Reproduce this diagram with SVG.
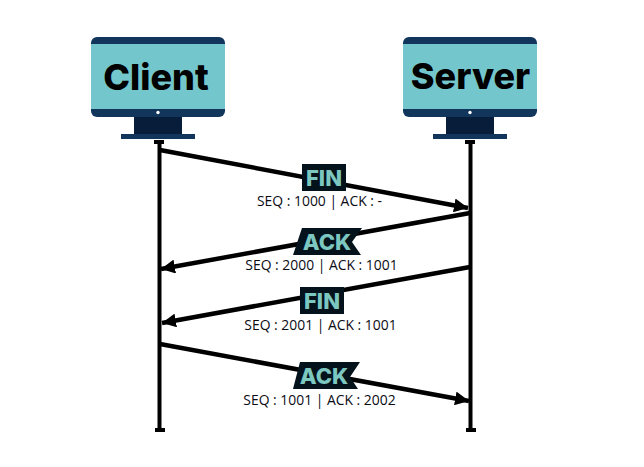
<svg xmlns="http://www.w3.org/2000/svg" width="644" height="467" viewBox="0 0 644 467">
<style>
.frame{fill:#12355b}
.screen{fill:#73c6cc}
.neck{fill:#071d3a}
.dot{fill:#fff}
.name{font-family:"Inter","Liberation Sans",sans-serif;font-weight:800;font-size:36px;fill:#000;text-anchor:middle}
.life{stroke:#000;stroke-width:4;fill:none}
.cap{fill:#000}
.msg{stroke:#000;stroke-width:4.500;fill:none;marker-end:url(#arrow)}
.badge{fill:#04121c}
.flag{font-family:"Inter","Liberation Sans",sans-serif;font-weight:800;font-size:22px;fill:#7cc7c0;text-anchor:middle}
.seq{font-family:"Open Sans","Noto Sans",sans-serif;font-size:13.900px;fill:#0b0b14;text-anchor:middle}
</style>
<defs>
<marker id="arrow" markerUnits="userSpaceOnUse" markerWidth="16" markerHeight="14" refX="14" refY="7" orient="auto">
<path d="M0 0L14 7L0 14Z" fill="#000"/>
</marker>
<g id="monitor">
<rect x="0" y="0" width="134" height="80" rx="6" class="frame"/>
<rect x="0" y="7" width="134" height="65" class="screen"/>
<circle cx="67" cy="75.500" r="1.700" class="dot"/>
<rect x="43" y="80" width="48" height="17" class="neck"/>
<rect x="30" y="97" width="74" height="5" class="frame"/>
</g>
</defs>
<rect width="644" height="467" fill="#fff"/>
<g id="connectors">
<path class="life" d="M159.500 141V430"/>
<rect class="cap" x="154" y="140" width="10" height="4"/>
<rect class="cap" x="155" y="428" width="10" height="4"/>
<path class="life" d="M470.500 141V430"/>
<rect class="cap" x="465" y="140" width="10" height="4"/>
<rect class="cap" x="466" y="428" width="10" height="4"/>
<path class="msg" d="M160 150L468 208"/>
<path class="msg" d="M470 213L161 269"/>
<path class="msg" d="M470 267L162 323"/>
<path class="msg" d="M160 344L469 401"/>
</g>
<g id="client">
<use href="#monitor" x="91" y="37"/>
<text class="name" x="156" y="90">Client</text>
</g>
<g id="server">
<use href="#monitor" x="403" y="37"/>
<text class="name" x="470.500" y="89">Server</text>
</g>
<g id="msg1">
<rect class="badge" x="302" y="164" width="44" height="27"/>
<text class="flag" x="324" y="186">FIN</text>
<text class="seq" x="319.500" y="206">SEQ : 1000 | ACK : -</text>
</g>
<g id="msg2">
<polygon class="badge" points="302,228 362,228 352,242 361,255 293,255"/>
<text class="flag" x="327" y="250">ACK</text>
<text class="seq" x="321.500" y="269.500">SEQ : 2000 | ACK : 1001</text>
</g>
<g id="msg3">
<rect class="badge" x="300" y="287" width="44" height="27"/>
<text class="flag" x="322" y="309">FIN</text>
<text class="seq" x="320.500" y="330">SEQ : 2001 | ACK : 1001</text>
</g>
<g id="msg4">
<polygon class="badge" points="300,362 360,362 350,377 358,389 293,389"/>
<text class="flag" x="324" y="384">ACK</text>
<text class="seq" x="319.500" y="405">SEQ : 1001 | ACK : 2002</text>
</g>
</svg>
